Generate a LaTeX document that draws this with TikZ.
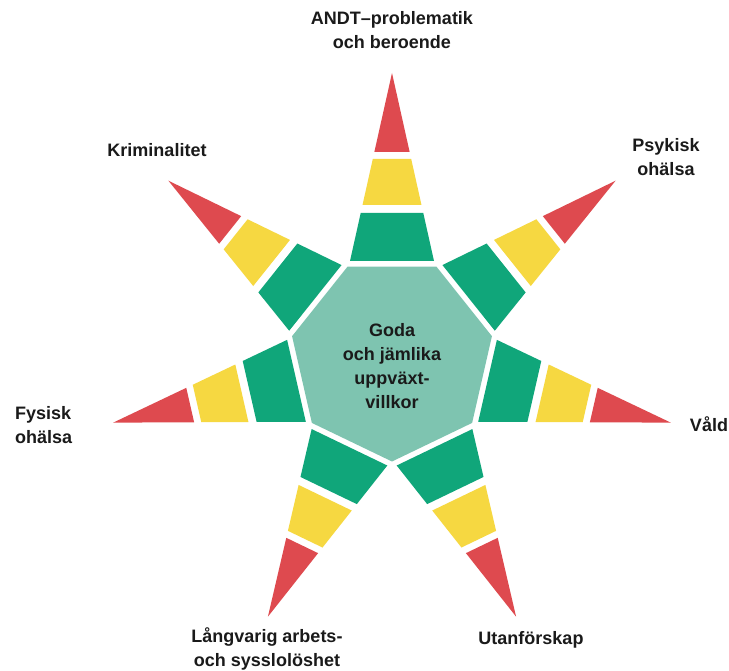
\documentclass[tikz,border=0pt]{standalone}
\usepackage{fontspec}
\setmainfont{Liberation Sans}
\usetikzlibrary{calc}
\definecolor{cgreen}{HTML}{10A67A}
\definecolor{cyellow}{HTML}{F6D841}
\definecolor{cred}{HTML}{DE4A4F}
\definecolor{cteal}{HTML}{7EC4B0}
\definecolor{ctext}{HTML}{1A1A1A}
\begin{document}
\begin{tikzpicture}[x=1pt,y=-1pt,
  lbl/.style={font=\fontsize{18}{24}\selectfont\bfseries, text=ctext, align=center, inner sep=0pt}]
\useasboundingbox[fill=white] (0,0) rectangle (729,671);
\coordinate (C) at (392,359);
% centre heptagon
\foreach \k in {0,...,6}{
  \coordinate (H\k) at ($(C)+({-115.714+51.4286*\k}:102.5)$);
}
\fill[cteal] (H0) -- (H1) -- (H2) -- (H3) -- (H4) -- (H5) -- (H6) -- cycle;
% rays: piece between distances d1 and d2 from the centre, half-width 0.2234*(286-d)
\foreach \k in {0,...,6}{
  \pgfmathsetmacro{\p}{-90+51.4286*\k}
  \pgfmathsetmacro{\q}{\p+90}
  \coordinate (Ga\k) at ($(C)+(\p:98)+(\q:42)$);
  \coordinate (Gb\k) at ($(C)+(\p:98)+(\q:-42)$);
  \coordinate (Gc\k) at ($(C)+(\p:146)+(\q:-31.28)$);
  \coordinate (Gd\k) at ($(C)+(\p:146)+(\q:31.28)$);
  \coordinate (Ya\k) at ($(C)+(\p:154)+(\q:29.49)$);
  \coordinate (Yb\k) at ($(C)+(\p:154)+(\q:-29.49)$);
  \coordinate (Yc\k) at ($(C)+(\p:200)+(\q:-19.21)$);
  \coordinate (Yd\k) at ($(C)+(\p:200)+(\q:19.21)$);
  \coordinate (Ra\k) at ($(C)+(\p:207)+(\q:17.65)$);
  \coordinate (Rb\k) at ($(C)+(\p:207)+(\q:-17.65)$);
  \coordinate (T\k) at ($(C)+(\p:286)$);
  \fill[cgreen] (Ga\k) -- (Gb\k) -- (Gc\k) -- (Gd\k) -- cycle;
  \fill[cyellow] (Ya\k) -- (Yb\k) -- (Yc\k) -- (Yd\k) -- cycle;
  \fill[cred] (Ra\k) -- (Rb\k) -- (T\k) -- cycle;
}
% labels
\node[lbl] (centre) at (392,366) {Goda\\och jämlika\\uppväxt-\\villkor};
\node[lbl] (andt) at (392,30) {ANDT–problematik\\och beroende};
\node[lbl] (psyk) at (666,157) {Psykisk\\ohälsa};
\node[lbl] (vald) at (709,424) {Våld};
\node[lbl] (utan) at (531,640) {Utanförskap};
\node[lbl] (lang) at (267,649) {Långvarig arbets-\\och sysslolöshet};
\node[lbl, align=left, anchor=west] (fys) at (15,425) {Fysisk\\ohälsa};
\node[lbl] (krim) at (157,150) {Kriminalitet};
\end{tikzpicture}
\end{document}
